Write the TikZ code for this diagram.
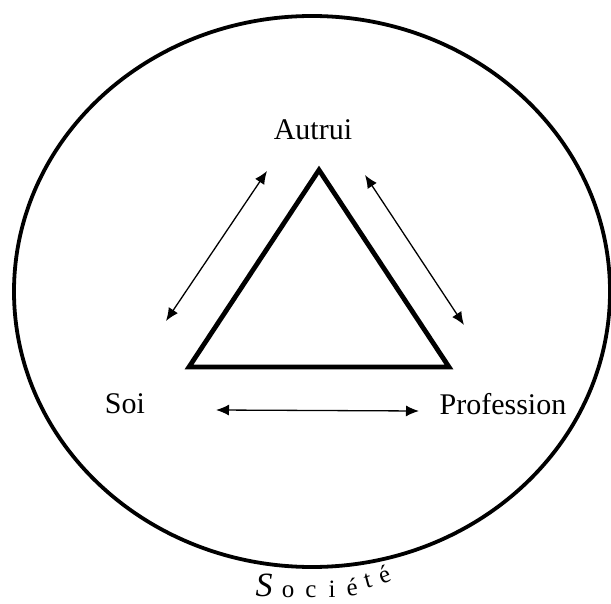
\documentclass[tikz,border=0pt]{standalone}
\usepackage{fontspec}
\setmainfont{Liberation Serif}
\usetikzlibrary{arrows.meta,shapes.geometric}
\begin{document}
\begin{tikzpicture}[x=1pt,y=-1pt,
  lbl/.style={inner sep=0pt,font=\fontsize{30}{34}\selectfont},
  ltr/.style={inner sep=0pt,font=\fontsize{25}{28}\selectfont},
  dbl/.style={line width=1.3pt,{Latex[length=13pt,width=11pt]}-{Latex[length=13pt,width=11pt]}},
  tri/.style={line width=4.8pt,line join=miter}]
\useasboundingbox (0,0) rectangle (611,604);
\fill[white] (0,0) rectangle (611,604);
\node[draw,ellipse,line width=3.8pt,minimum width=596pt,minimum height=551pt,inner sep=0pt] (soc) at (312,291.5) {};
\coordinate (A) at (319,170);
\coordinate (B) at (189,367);
\coordinate (C) at (449,367);
\draw[tri] (A) -- (B) -- (C) -- cycle;
\node[lbl] (autrui) at (313,130) {Autrui};
\node[lbl] (soi) at (125,404) {Soi};
\node[lbl] (prof) at (503,404) {Profession};
\coordinate (l1) at (166,321);
\coordinate (l2) at (267,171);
\coordinate (r1) at (365,175);
\coordinate (r2) at (464,325);
\coordinate (b1) at (216,410);
\coordinate (b2) at (419,411);
\draw[dbl] (l1) -- (l2);
\draw[dbl] (r1) -- (r2);
\draw[dbl] (b1) -- (b2);
\node[inner sep=0pt,font=\fontsize{34}{38}\selectfont\itshape] (s1) at (264,585) {S};
\node[ltr] (s2) at (288,592) {o};
\node[ltr] (s3) at (311,592) {c};
\node[ltr] (s4) at (332,589) {i};
\node[ltr,rotate=8] (s5) at (352,587) {é};
\node[ltr,rotate=15] (s6) at (368,581) {t};
\node[ltr,rotate=22] (s7) at (384,574) {é};
\end{tikzpicture}
\end{document}
